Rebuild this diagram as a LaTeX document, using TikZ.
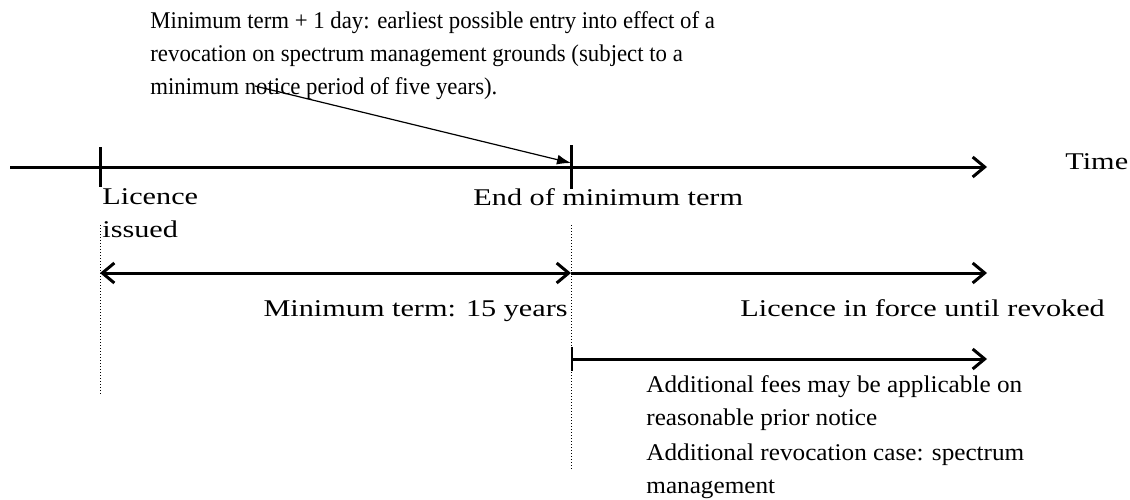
\documentclass[tikz,border=0pt]{standalone}
\usepackage{fontspec}
\setmainfont{Liberation Serif}
\newfontfamily\widefont[FakeStretch=1.26]{Liberation Serif}
\newfontfamily\halfwidefont[FakeStretch=1.05]{Liberation Serif}
\newfontfamily\narrowfont[FakeStretch=0.95]{Liberation Serif}
\usepackage{tikz}
\usetikzlibrary{shapes,arrows,arrows.meta}
\tikzstyle{label} = [inner sep=0pt, align=left, font=\widefont\fontsize{12}{16.5}\selectfont]
\tikzstyle{note} = [inner sep=0pt, align=left, font=\narrowfont\fontsize{12}{16.5}\selectfont]
\tikzstyle{remark} = [inner sep=0pt, align=left, font=\halfwidefont\fontsize{12}{16.5}\selectfont]
\tikzstyle{axis} = [draw, line width=1.5pt, -{Straight Barb[length=6pt,width=10pt,line width=1.5pt]}]
\tikzstyle{span} = [draw, line width=1.5pt, {Straight Barb[length=6pt,width=10pt,line width=1.5pt]}-{Straight Barb[length=6pt,width=10pt,line width=1.5pt]}]
\tikzstyle{spanfrom} = [draw, line width=1.5pt, {Bar[width=12pt,line width=1pt]}-{Straight Barb[length=6pt,width=10pt,line width=1.5pt]}]
\tikzstyle{tick} = [draw, line width=1.5pt]
\tikzstyle{guide} = [draw, line width=0.5pt, densely dotted]
\tikzstyle{line} = [draw, line width=0.6pt, -{Latex[length=7pt,width=5pt]}]

\begin{document}
\begin{tikzpicture}[x=0.5pt, y=-0.5pt]
    \useasboundingbox (0,0) rectangle (1130,499);
    % Place coordinates
    \coordinate (start) at (10,167);
    \coordinate (stop) at (987,167);
    \coordinate (issue) at (100,167);
    \coordinate (endmin) at (571,167);
    \coordinate (notestart) at (255,86);
    % Place nodes
    \node [note, anchor=north west] (note) at (150,11) {Minimum term + 1 day: earliest possible entry into effect of a\\revocation on spectrum management grounds (subject to a\\minimum notice period of five years).};
    \node [label, anchor=base west] (time) at (1065,169) {Time};
    \node [label, anchor=north west] (issued) at (102,188) {Licence\\issued};
    \node [label, anchor=north west] (endterm) at (473,188) {End of minimum term};
    \node [label, anchor=base east] (minterm) at (568,316) {Minimum term: 15 years};
    \node [label, anchor=base west] (inforce) at (740,316) {Licence in force until revoked};
    \node [remark, anchor=north west] (fees) at (646,375) {Additional fees may be applicable on\\reasonable prior notice};
    \node [remark, anchor=north west] (revoke) at (646,443) {Additional revocation case: spectrum\\management};
    % Draw edges
    \path [axis] (start) -- (stop);
    \path [tick] ([yshift=10pt]issue) -- ([yshift=-10pt]issue);
    \path [tick] ([yshift=11pt]endmin) -- ([yshift=-11pt]endmin);
    \path [line] (notestart) -- ([yshift=2pt]endmin);
    \path [guide] (100,225) -- (100,395);
    \path [guide] (571,225) -- (571,470);
    \path [span] (100,273) -- (571,273);
    \path [axis] (571,273) -- (987,273);
    \path [spanfrom] (571,359) -- (987,359);
\end{tikzpicture}
\end{document}
